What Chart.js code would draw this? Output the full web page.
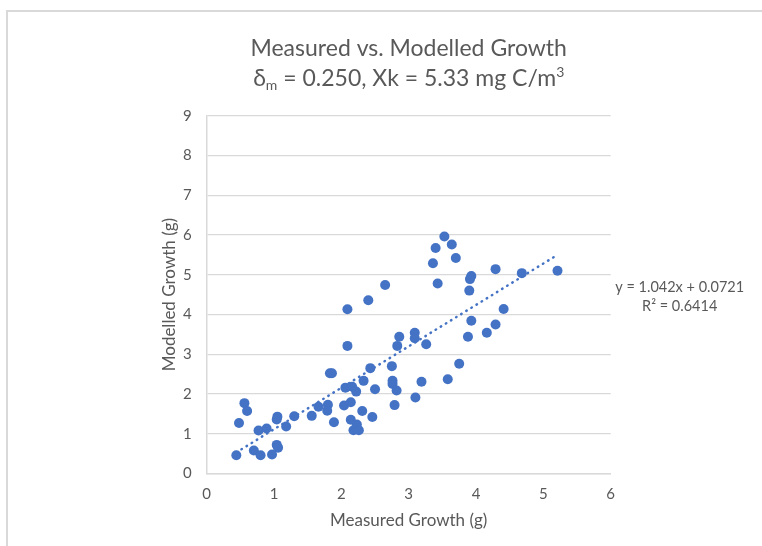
<!DOCTYPE html>
<html>
<head>
<meta charset="utf-8">
<script src="https://cdn.jsdelivr.net/npm/chart.js@4.4.1/dist/chart.umd.min.js"></script>
<style>
  html, body { margin: 0; padding: 0; background: #ffffff; }
  #c { display: block; }
</style>
</head>
<body>
<canvas id="c" width="762" height="546"></canvas>
<script>
// ---- Data ----
const measured = [
  0.44, 0.56, 0.60, 0.48, 0.70, 0.80, 0.77, 0.89, 0.97, 1.04,
  1.06, 1.05, 1.04, 1.18, 1.30, 1.56, 1.66, 1.80, 1.79, 1.83,
  1.86, 1.89, 2.09, 2.09, 2.06, 2.04, 2.14, 2.16, 2.22, 2.14,
  2.18, 2.23, 2.26, 2.31, 2.33, 2.40, 2.43, 2.46, 2.50, 2.65,
  2.75, 2.76, 2.76, 2.79, 2.82, 2.83, 2.86, 3.09, 3.09, 3.10,
  3.19, 3.26, 3.36, 3.40, 3.43, 3.53, 3.58, 3.64, 3.70, 3.75,
  3.88, 3.90, 3.91, 3.93, 3.93, 4.16, 4.29, 4.29, 4.41, 4.68,
  5.21
];
const modelled = [
  0.46, 1.77, 1.57, 1.27, 0.58, 0.46, 1.08, 1.13, 0.48, 0.72,
  0.65, 1.43, 1.36, 1.18, 1.44, 1.45, 1.68, 1.73, 1.58, 2.52,
  2.52, 1.29, 3.21, 4.13, 2.16, 1.71, 1.79, 2.18, 2.06, 1.35,
  1.09, 1.23, 1.09, 1.57, 2.33, 4.36, 2.65, 1.42, 2.12, 4.74,
  2.70, 2.33, 2.25, 1.72, 2.09, 3.21, 3.44, 3.54, 3.40, 1.91,
  2.31, 3.25, 5.29, 5.67, 4.78, 5.96, 2.37, 5.76, 5.42, 2.76,
  3.44, 4.60, 4.89, 4.97, 3.84, 3.54, 5.14, 3.75, 4.14, 5.04,
  5.10
];
const trendSlope = 1.042;
const trendIntercept = 0.0721;
const trendLabel = ['y = 1.042x + 0.0721', 'R² = 0.6414'];
const titleLine1 = 'Measured vs. Modelled Growth';
// second title line as rich-text pieces: [text, 'normal' | 'sub' | 'sup']
const titleLine2 = [['δ', 'normal'], ['m', 'sub'], [' = 0.250, Xk = 5.33 mg C/m', 'normal'], ['3', 'sup']];
const xAxisTitle = 'Measured Growth (g)';
const yAxisTitle = 'Modelled Growth (g)';
const xRange = [0, 6];
const yRange = [0, 9];

// ---- Derived ----
const points = measured.map((x, i) => ({ x: x, y: modelled[i] }));
const xMin = Math.min(...measured), xMax = Math.max(...measured);
const trendPoints = [xMin, xMax].map(x => ({ x: x, y: trendSlope * x + trendIntercept }));

const FONT = 'Lato, "Open Sans", sans-serif';
const GREY = '#595959';
const BLUE = '#4472C4';

const frame = {
  id: 'frame',
  beforeDraw(chart) {
    const ctx = chart.ctx;
    ctx.save();
    ctx.fillStyle = '#ffffff';
    ctx.fillRect(0, 0, chart.width, chart.height);
    ctx.strokeStyle = '#d9d9d9';
    ctx.lineWidth = 2;
    ctx.beginPath();
    ctx.moveTo(7, chart.height);
    ctx.lineTo(7, 11);
    ctx.lineTo(chart.width, 11);
    ctx.stroke();
    ctx.restore();
  }
};

const richTitle = {
  id: 'richTitle',
  afterDraw(chart) {
    const ctx = chart.ctx;
    const area = chart.chartArea;
    const cx = (area.left + area.right) / 2;
    const big = 23, small = 14;
    ctx.save();
    ctx.fillStyle = GREY;
    ctx.textBaseline = 'alphabetic';
    ctx.font = big + 'px ' + FONT;
    ctx.textAlign = 'center';
    ctx.fillText(titleLine1, cx, 56);
    // second line
    ctx.textAlign = 'left';
    const fontFor = k => (k === 'normal' ? big : small) + 'px ' + FONT;
    let total = 0;
    titleLine2.forEach(([t, k]) => { ctx.font = fontFor(k); total += ctx.measureText(t).width; });
    let x = cx - total / 2;
    const base = 86;
    titleLine2.forEach(([t, k]) => {
      ctx.font = fontFor(k);
      const dy = k === 'sub' ? 4 : (k === 'sup' ? -9 : 0);
      ctx.fillText(t, x, base + dy);
      x += ctx.measureText(t).width;
    });
    ctx.restore();
  }
};

const trendText = {
  id: 'trendText',
  afterDatasetsDraw(chart) {
    const ctx = chart.ctx;
    const xs = chart.scales.x, ys = chart.scales.y;
    ctx.save();
    ctx.fillStyle = GREY;
    ctx.font = '14.5px ' + FONT;
    ctx.textAlign = 'center';
    ctx.textBaseline = 'middle';
    const cx = xs.right + 69;
    const cy = ys.getPixelForValue(trendSlope * xMax + trendIntercept) + 33;
    ctx.fillText(trendLabel[0], cx, cy);
    ctx.fillText(trendLabel[1], cx, cy + 19);
    ctx.restore();
  }
};

new Chart(document.getElementById('c'), {
  type: 'scatter',
  data: {
    datasets: [
      {
        label: 'Modelled',
        data: points,
        backgroundColor: BLUE,
        borderColor: BLUE,
        pointRadius: 5,
        pointBorderWidth: 0,
        order: 2
      },
      {
        type: 'line',
        label: 'Linear trend',
        data: trendPoints,
        borderColor: BLUE,
        borderWidth: 2.5,
        borderDash: [0.5, 5.5],
        borderCapStyle: 'round',
        pointRadius: 0,
        fill: false,
        order: 1
      }
    ]
  },
  options: {
    responsive: false,
    animation: false,
    devicePixelRatio: 1,
    layout: { padding: { left: 158, right: 151.3, top: 115.7, bottom: 0 } },
    plugins: {
      legend: { display: false },
      tooltip: { enabled: false },
      title: { display: false }
    },
    scales: {
      x: {
        type: 'linear',
        min: xRange[0], max: xRange[1],
        ticks: { stepSize: 1, color: GREY, font: { family: FONT, size: 15 }, padding: 12 },
        grid: { display: false, drawTicks: false },
        border: { display: true, color: '#d9d9d9', width: 1.5 },
        title: { display: true, text: xAxisTitle, color: GREY, font: { family: FONT, size: 17 }, padding: { top: 6, bottom: 14.8 } },
        afterFit(scale) { scale.height = 72.5; }
      },
      y: {
        type: 'linear',
        min: yRange[0], max: yRange[1],
        ticks: { stepSize: 1, color: GREY, font: { family: FONT, size: 15 }, padding: 15 },
        grid: { color: '#d9d9d9', lineWidth: 1.25, drawTicks: false },
        border: { display: true, color: '#d9d9d9', width: 1.5 },
        title: { display: true, text: yAxisTitle, color: GREY, font: { family: FONT, size: 17 }, padding: { top: 1.8, bottom: 3 } },
        afterFit(scale) { scale.width = 48.7; }
      }
    }
  },
  plugins: [frame, richTitle, trendText]
});
</script>
</body>
</html>
